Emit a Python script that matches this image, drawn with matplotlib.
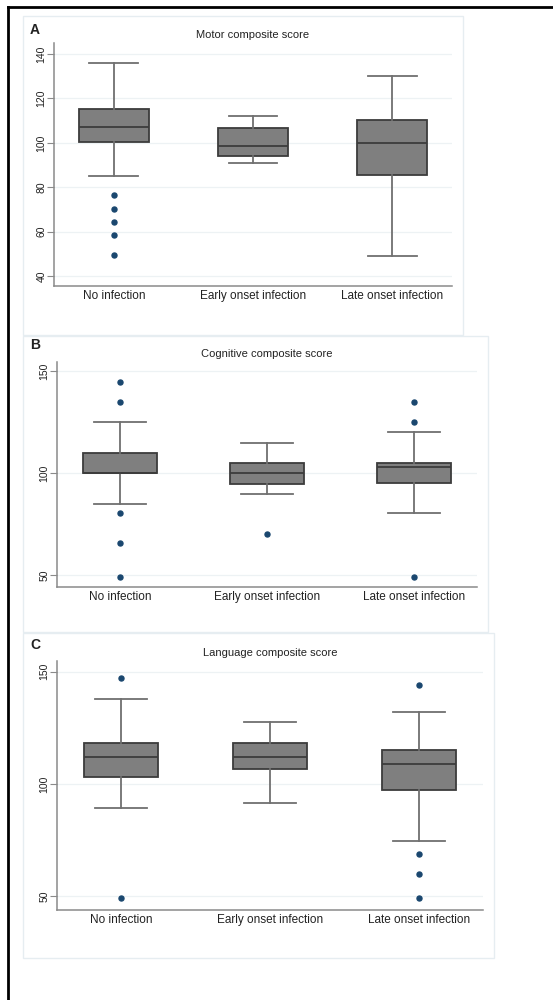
import matplotlib
matplotlib.use("Agg")
import matplotlib.pyplot as plt
from matplotlib.patches import Rectangle
from matplotlib.lines import Line2D

plt.rcParams['font.family'] = ['Liberation Sans', 'DejaVu Sans']

groups = ["No infection", "Early onset infection", "Late onset infection"]

# Panel A: Motor composite score
motor_whislo = [85, 91, 49]
motor_q1 = [100.2, 94.2, 85.5]
motor_med = [107.1, 98.7, 100]
motor_q3 = [115.2, 106.8, 110.3]
motor_whishi = [136, 112, 130]
motor_fliers = [[76.5, 70.3, 64.3, 58.3, 49.3], [], []]
motor_ticks = [40, 60, 80, 100, 120, 140]

# Panel B: Cognitive composite score
cog_whislo = [85, 90, 80.3]
cog_q1 = [100, 94.9, 95]
cog_med = [100, 100, 102.8]
cog_q3 = [110.1, 104.9, 105]
cog_whishi = [125, 115, 120]
cog_fliers = [[145, 135, 80.5, 65.7, 49.2], [70.2], [135.2, 125, 49.2]]
cog_ticks = [50, 100, 150]

# Panel C: Language composite score
lang_whislo = [89.2, 91.3, 74.4]
lang_q1 = [103.3, 106.7, 97.3]
lang_med = [112, 112, 109]
lang_q3 = [118.1, 118.1, 115]
lang_whishi = [137.9, 127.6, 132]
lang_fliers = [[147, 49.3], [], [144, 68.8, 59.9, 49.3]]
lang_ticks = [50, 100, 150]

W, H = 553, 1000
fig = plt.figure(figsize=(W / 100, H / 100), dpi=100)

def px_axes(l, t, r, b):
    return fig.add_axes([l / W, 1 - b / H, (r - l) / W, (b - t) / H])

def px_rect(l, t, r, b, **kw):
    fig.patches.append(Rectangle((l / W, 1 - b / H), (r - l) / W, (b - t) / H,
                                 transform=fig.transFigure, fill=False, **kw))

# outer frame (left and top edges)
fig.add_artist(Line2D([8 / W, 8 / W], [0, 1 - 7 / H], transform=fig.transFigure,
                      color='black', lw=2))
fig.add_artist(Line2D([8 / W, 1], [1 - 7 / H, 1 - 7 / H], transform=fig.transFigure,
                      color='black', lw=2))

panels = [
    dict(letter="A", title="Motor composite score", box=(23, 16, 463, 335),
         ax=(54, 43, 452, 286), ylim=(35.5, 145), ticks=motor_ticks,
         letter_y=30, title_y=35,
         stats=(motor_whislo, motor_q1, motor_med, motor_q3, motor_whishi, motor_fliers)),
    dict(letter="B", title="Cognitive composite score", box=(23, 336, 488, 632),
         ax=(57, 362, 477, 587), ylim=(44.1, 154.6), ticks=cog_ticks,
         letter_y=345, title_y=354,
         stats=(cog_whislo, cog_q1, cog_med, cog_q3, cog_whishi, cog_fliers)),
    dict(letter="C", title="Language composite score", box=(23, 633, 494, 958),
         ax=(57, 661, 483, 910), ylim=(43.8, 154.8), ticks=lang_ticks,
         letter_y=645, title_y=653,
         stats=(lang_whislo, lang_q1, lang_med, lang_q3, lang_whishi, lang_fliers)),
]

for p in panels:
    px_rect(*p["box"], edgecolor='#e6edf1', lw=1.0)
    l, t, r, b = p["ax"]
    ax = px_axes(l, t, r, b)
    wl, q1, md, q3, wh, fl = p["stats"]
    bxstats = []
    for i, g in enumerate(groups):
        bxstats.append(dict(label=g, whislo=wl[i], q1=q1[i], med=md[i], q3=q3[i],
                            whishi=wh[i], fliers=fl[i]))
    ax.bxp(bxstats, positions=[1, 2, 3], widths=0.5, patch_artist=True,
           showfliers=True,
           boxprops=dict(facecolor='#7f7f7f', edgecolor='#3c3c3c', lw=1.3),
           medianprops=dict(color='#3c3c3c', lw=1.3),
           whiskerprops=dict(color='#707070', lw=1.3),
           capprops=dict(color='#707070', lw=1.3),
           capwidths=0.35,
           flierprops=dict(marker='o', markerfacecolor='#1a476f',
                           markeredgecolor='#1a476f', markersize=3.6, linestyle='none'))
    ax.set_xlim(0.57, 3.43)
    ax.set_ylim(*p["ylim"])
    ax.set_yticks(p["ticks"])
    ax.set_yticklabels([str(v) for v in p["ticks"]], rotation=90, va='center',
                       fontsize=7.5, color='#222222')
    ax.set_xticks([1, 2, 3])
    ax.set_xticklabels(groups, fontsize=8.5, color='#222222')
    ax.tick_params(axis='x', length=0, pad=3)
    ax.tick_params(axis='y', length=5, width=0.8, color='#8a8a8a', pad=0.5)
    ax.grid(axis='y', color='#edf2f4', lw=0.9)
    ax.set_axisbelow(True)
    for s in ['top', 'right']:
        ax.spines[s].set_visible(False)
    for s in ['left', 'bottom']:
        ax.spines[s].set_color('#8a8a8a')
        ax.spines[s].set_linewidth(1.1)
    fig.text(30 / W, 1 - p["letter_y"] / H, p["letter"], fontsize=10,
             fontweight='bold', ha='left', va='center', color='#222222')
    fig.text(((l + r) / 2) / W, 1 - p["title_y"] / H, p["title"], fontsize=8,
             ha='center', va='center', color='#222222')

fig.savefig("out.png", dpi=100, facecolor='white')
